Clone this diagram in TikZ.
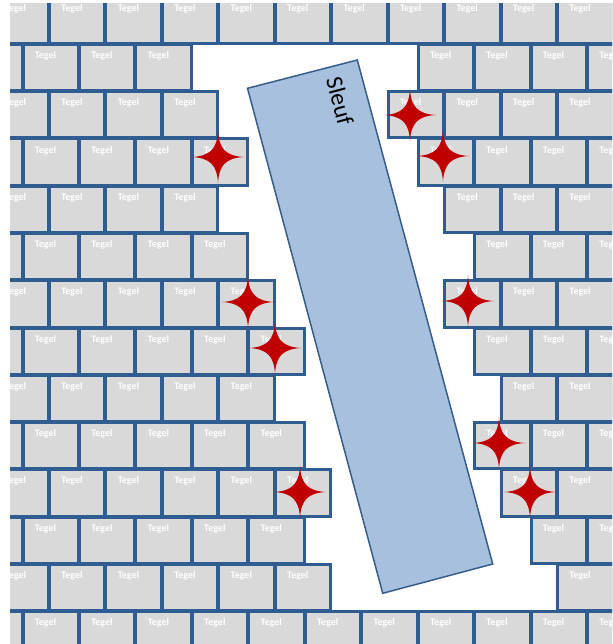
\documentclass[tikz,border=0pt]{standalone}
\usepackage{fontspec}
\setmainfont{Carlito}
\definecolor{tilefill}{HTML}{D9D9D9}
\definecolor{tileline}{HTML}{305D91}
\definecolor{sleuffill}{HTML}{A7C0DE}
\definecolor{sleufline}{HTML}{385D8A}
\definecolor{starred}{HTML}{C00000}
\tikzset{
  tilebox/.style={fill=tilefill, draw=tileline, line width=3pt},
  tiletext/.style={text=white, font=\bfseries\fontsize{10}{10}\selectfont, inner sep=0pt},
  sleufbox/.style={fill=sleuffill, draw=sleufline, line width=1.5pt, line join=miter},
  redstar/.pic={\fill[starred] (0,-26) .. controls (1,-8) and (8,-1) .. (26,0)
      .. controls (8,1) and (1,8) .. (0,26)
      .. controls (-1,8) and (-8,1) .. (-26,0)
      .. controls (-8,-1) and (-1,-8) .. cycle;}
}
\newcommand{\onetile}[3]{%
  \draw[tilebox] ({#1+0.5},{#2+0.5}) rectangle ({#1+55.95},{#2+46.75});
  \node[tiletext] (#3) at ({#1+23},{#2+12}) {Tegel};
}
\begin{document}
\begin{tikzpicture}[x=1pt,y=-1pt]
\useasboundingbox (0,0) rectangle (612,644);
\begin{scope}
\clip (10,4) rectangle (612,644);
% full rows
\foreach \j in {0,...,11} {
  \onetile{49+56.45*(\j-1)}{-3.25}{ta-\j}
  \onetile{22.5+56.45*(\j-1)}{-3.25+47.25*13}{tb-\j}
}
% even rows
\foreach \k/\L/\R in {2/3/6, 4/3/7, 6/4/7, 8/4/8, 10/5/8, 12/5/9} {
  \pgfmathtruncatemacro\s{\R+1}
  \foreach \j in {0,...,\L} {\onetile{49+56.45*(\j-1)}{-3.25+47.25*\k}{tl-\k-\j}}
  \foreach \j in {\s,...,11} {\onetile{49+56.45*(\j-1)}{-3.25+47.25*\k}{tr-\k-\j}}
}
% odd rows
\foreach \k/\L/\R in {1/3/7, 3/4/7, 5/4/8, 7/5/8, 9/5/8, 11/5/9} {
  \pgfmathtruncatemacro\s{\R+1}
  \foreach \j in {0,...,\L} {\onetile{22.5+56.45*(\j-1)}{-3.25+47.25*\k}{tl-\k-\j}}
  \foreach \j in {\s,...,11} {\onetile{22.5+56.45*(\j-1)}{-3.25+47.25*\k}{tr-\k-\j}}
}
\end{scope}
% Sleuf
\coordinate (s1) at (247.5,88.3);
\coordinate (s2) at (357.3,60);
\coordinate (s3) at (492.7,564);
\coordinate (s4) at (382.7,593.3);
\draw[sleufbox] (s1) -- (s2) -- (s3) -- (s4) -- cycle;
\node[rotate=-75, font=\fontsize{24}{24}\selectfont, inner sep=0pt] (sleuf) at (340,101) {Sleuf};
% stars
\foreach \x/\y [count=\n] in {218/157, 410/115, 443/156, 248/302, 275/348, 468/301, 499/443, 530/492, 300/492} {
  \pic (star\n) at (\x,\y) {redstar};
}
\end{tikzpicture}
\end{document}
